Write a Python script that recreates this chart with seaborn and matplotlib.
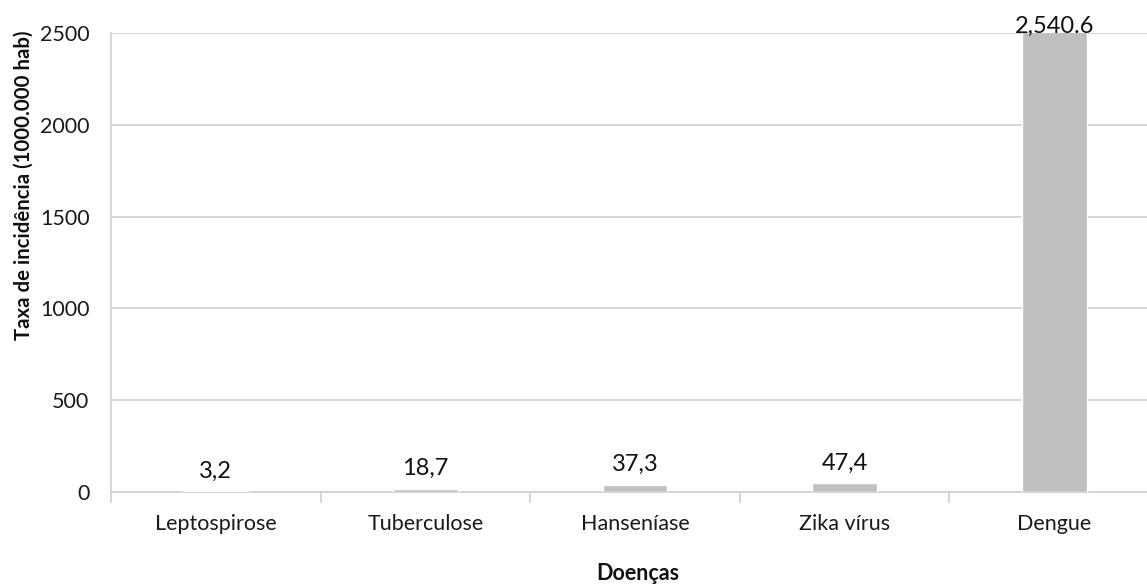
import matplotlib
matplotlib.use("Agg")
import matplotlib.pyplot as plt
import seaborn as sns
import pandas as pd

doencas = ["Leptospirose", "Tuberculose", "Hanseníase", "Zika vírus", "Dengue"]
taxas = [3.2, 18.7, 37.3, 47.4, 2540.6]
rotulos = ["3,2", "18,7", "37,3", "47,4", "2,540.6"]
y_ticks = [0, 500, 1000, 1500, 2000, 2500]

sns.set_theme(style="white")
plt.rcParams["font.family"] = ["Lato", "DejaVu Sans"]

df = pd.DataFrame({"Doença": doencas, "Taxa": taxas})

W, H = 1147, 588
x0, x1, y_top, y_bot = 111, 1159, 33, 492
fig = plt.figure(figsize=(W / 100, H / 100), dpi=100)
ax = fig.add_axes([x0 / W, 1 - y_bot / H, (x1 - x0) / W, (y_bot - y_top) / H])

sns.barplot(data=df, x="Doença", y="Taxa", color="#BFBFBF", width=0.31,
            saturation=1, ax=ax, zorder=3)

ymax = y_ticks[-1]
ax.set_ylim(0, ymax)
ax.set_xlim(-0.5, len(doencas) - 0.5)
ax.set_yticks(y_ticks)
ax.set_yticklabels([str(t) for t in y_ticks], fontsize=15.5, color="#1a1a1a")
ax.yaxis.grid(True, color="#d0d0d0", linewidth=1.2, zorder=0)

ax.tick_params(axis="x", which="major", length=0, labelsize=15.5, pad=16,
               labelcolor="#1a1a1a")
ax.set_xticks([i - 0.5 for i in range(len(doencas) + 1)], minor=True)
ax.tick_params(axis="x", which="minor", length=8, width=1.2, color="#d0d0d0",
               direction="out", bottom=True)
ax.tick_params(axis="y", length=0, pad=15.5)

for side in ["top", "right"]:
    ax.spines[side].set_visible(False)
for side in ["left", "bottom"]:
    ax.spines[side].set_color("#d0d0d0")
    ax.spines[side].set_linewidth(1.2)

for i, (v, txt) in enumerate(zip(taxas, rotulos)):
    if v >= ymax:
        ax.annotate(txt, (i, ymax), xytext=(0, 0), textcoords="offset points",
                    ha="center", va="baseline", fontsize=17, color="#111111",
                    annotation_clip=False, zorder=5)
    else:
        ax.annotate(txt, (i, v), xytext=(0, 10), textcoords="offset points",
                    ha="center", va="baseline", fontsize=17, color="#111111",
                    zorder=5)

ax.set_xlabel("Doenças", fontsize=15.5, fontweight="bold", color="#111111")
ax.xaxis.label.set_va("center")
ax.xaxis.set_label_coords((638 - x0) / (x1 - x0), (y_bot - 574) / (y_bot - y_top))

ax.set_ylabel("Taxa de incidência (1000.000 hab)", fontsize=14.7,
              fontweight="bold", color="#111111")
ax.yaxis.label.set_va("center")
ax.yaxis.set_label_coords((24 - x0) / (x1 - x0), (y_bot - 185) / (y_bot - y_top))

fig.savefig("out.png", dpi=100)
